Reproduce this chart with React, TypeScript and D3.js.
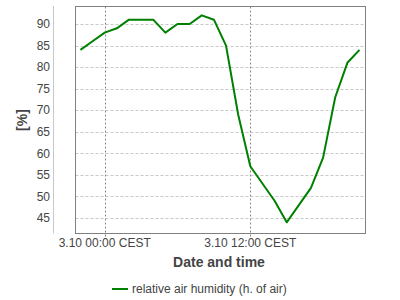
import React from "react";
import * as d3 from "d3";

const hours: number[] = [-2, -1, 0, 1, 2, 3, 4, 5, 6, 7, 8, 9, 10, 11, 12, 13, 14, 15, 16, 17, 18, 19, 20, 21];
const humidity: number[] = [84, 86, 88, 89, 91, 91, 91, 88, 90, 90, 92, 91, 85, 69, 57, 53, 49, 44, 48, 52, 59, 73, 81, 84];
const yTicks: number[] = [45, 50, 55, 60, 65, 70, 75, 80, 85, 90];
const xTicks: number[] = [0, 12];
const xTickLabels: string[] = ["3.10 00:00 CEST", "3.10 12:00 CEST"];
const seriesName = "relative air humidity (h. of air)";

export default function App() {
  const W = 400, H = 300;
  const left = 75.5, right = 365.5, top = 6.5, bottom = 233.5;
  const x = d3.scaleLinear().domain([0, 12]).range([104.7, 250.3]);
  const y = d3.scaleLinear().domain([90, 45]).range([24, 218]);
  const line = d3.line<number>().x((_, i) => x(hours[i])).y((d) => y(d));
  const font = "'Liberation Sans', Arial, sans-serif";
  return (
    <svg width={W} height={H} style={{ position: "absolute", left: 0, top: 0 }} fontFamily={font}>
      <rect x={0} y={0} width={W} height={H} fill="#fff" />
      {yTicks.map((t) => (
        <line key={"gy" + t} x1={left} x2={right} y1={Math.round(y(t)) + 0.5} y2={Math.round(y(t)) + 0.5} stroke="#c8c8c8" strokeDasharray="3,2" />
      ))}
      {xTicks.map((t) => (
        <line key={"gx" + t} x1={Math.round(x(t)) + 0.5} x2={Math.round(x(t)) + 0.5} y1={top} y2={bottom + 3} stroke="#888" strokeDasharray="2,2" />
      ))}
      <rect x={left} y={top} width={right - left} height={bottom - top} fill="none" stroke="#808080" strokeWidth={1} />
      <line x1={53.5} x2={53.5} y1={top - 0.5} y2={bottom} stroke="#c8c8c8" />
      {yTicks.map((t) => (
        <text key={"ty" + t} x={50} y={y(t)} dy="0.35em" textAnchor="end" fontSize={12} fill="#444">{t}</text>
      ))}
      {xTicks.map((t, i) => (
        <text key={"tx" + t} x={x(t)} y={247} textAnchor="middle" fontSize={12} fill="#444">{xTickLabels[i]}</text>
      ))}
      <path d={line(humidity) || ""} fill="none" stroke="#008000" strokeWidth={2} strokeLinejoin="round" />
      <text x={219} y={267} textAnchor="middle" fontSize={14} fontWeight="bold" fill="#444">Date and time</text>
      <text transform="translate(27,120) rotate(-90)" textAnchor="middle" fontSize={14} fontWeight="bold" fill="#444">[%]</text>
      <line x1={112} x2={128} y1={289} y2={289} stroke="#008000" strokeWidth={2} />
      <text x={132} y={289} dy="0.35em" fontSize={12} fill="#444">{seriesName}</text>
    </svg>
  );
}
